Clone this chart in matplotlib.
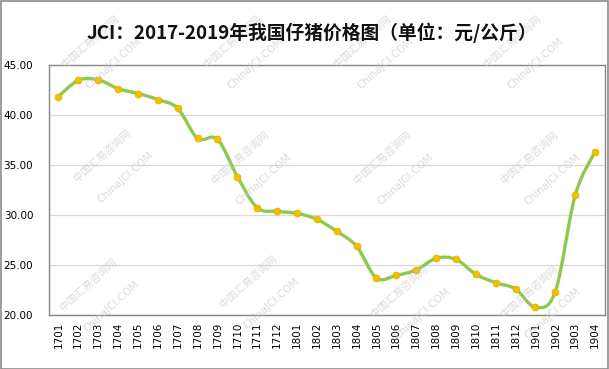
import matplotlib
matplotlib.use("Agg")
import matplotlib.pyplot as plt
from matplotlib.path import Path
from matplotlib.patches import PathPatch, Rectangle

plt.rcParams['font.family'] = ['Noto Sans CJK SC', 'DejaVu Sans']

months = ["1701", "1702", "1703", "1704", "1705", "1706", "1707", "1708", "1709", "1710",
          "1711", "1712", "1801", "1802", "1803", "1804", "1805", "1806", "1807", "1808",
          "1809", "1810", "1811", "1812", "1901", "1902", "1903", "1904"]
prices = [41.85, 43.47, 43.53, 42.63, 42.15, 41.55, 40.67, 37.67, 37.58, 33.85,
          30.73, 30.37, 30.17, 29.57, 28.37, 26.87, 23.70, 23.97, 24.50, 25.67,
          25.57, 24.07, 23.23, 22.60, 20.77, 22.33, 31.97, 36.33]
yticks = [20, 25, 30, 35, 40, 45]
title = "JCI：2017-2019年我国仔猪价格图（单位：元/公斤）"
wm_cn = "中国汇易咨询网"
wm_en = "ChinaJCI.COM"
wm_centers = [(90, 42), (232, 42), (362, 42), (512, 42),
              (102, 156), (240, 158), (382, 158), (529, 158),
              (88, 285), (248, 282), (399, 292), (529, 292)]

W, H = 609, 369
fig = plt.figure(figsize=(6.09, 3.69), dpi=100)
fig.patch.set_facecolor("white")
ax = fig.add_axes([48.5 / W, 1 - 315 / H, (605 - 48.5) / W, (315 - 65) / H])

xs = list(range(len(prices)))

# smoothed line (Excel-style Bezier through the data points)
verts = [(xs[0], prices[0])]
codes = [Path.MOVETO]
n = len(prices)
for i in range(n - 1):
    p0 = (xs[i - 1], prices[i - 1]) if i > 0 else (xs[i], prices[i])
    p1 = (xs[i], prices[i])
    p2 = (xs[i + 1], prices[i + 1])
    p3 = (xs[i + 2], prices[i + 2]) if i + 2 < n else p2
    c1 = (p1[0] + (p2[0] - p0[0]) / 6, p1[1] + (p2[1] - p0[1]) / 6)
    c2 = (p2[0] - (p3[0] - p1[0]) / 6, p2[1] - (p3[1] - p1[1]) / 6)
    verts += [c1, c2, p2]
    codes += [Path.CURVE4] * 3
ax.add_patch(PathPatch(Path(verts, codes), facecolor="none", edgecolor="#8DC94E",
                       lw=2.4, capstyle="round", joinstyle="round", zorder=3))
ax.plot(xs, prices, linestyle="none", marker="o", markersize=5,
        markerfacecolor="#F2BE00", markeredgecolor="#E0B000", markeredgewidth=0.5, zorder=4)

ax.set_xlim(-0.5, n - 0.5)
ax.set_ylim(20, 45)
ax.set_yticks(yticks)
ax.set_yticklabels([f"{v:.2f}" for v in yticks], fontsize=7.5, family="DejaVu Sans")
ax.set_xticks(xs)
ax.set_xticklabels(months, rotation=90, fontsize=7.5, family="DejaVu Sans")
ax.tick_params(axis="both", length=0)
ax.tick_params(axis="y", pad=11)
ax.tick_params(axis="x", pad=5)
ax.grid(axis="y", color="#D9D9D9", lw=0.9)
ax.set_axisbelow(True)
for s in ax.spines.values():
    s.set_color("#868686")
    s.set_linewidth(1.0)

# faint watermark text
for cx, cy in wm_centers:
    fig.text(cx / W, 1 - cy / H, wm_cn, ha="center", va="center", rotation=42,
             rotation_mode="anchor", fontsize=7.5, color="#C8C8C8", alpha=0.65, zorder=10)
    fig.text((cx + 24) / W, 1 - (cy + 21) / H, wm_en, ha="center", va="center", rotation=42,
             rotation_mode="anchor", fontsize=7.5, color="#C8C8C8", alpha=0.65, zorder=10,
             family="DejaVu Sans")

fig.text(312 / W, 1 - 33 / H, title, ha="center", va="center", fontsize=13.5,
         fontweight="bold", color="#111111", zorder=11)

fig.patches.append(Rectangle((0.001, 0.001), 0.997, 0.997, transform=fig.transFigure,
                             fill=False, edgecolor="#8C8C8C", lw=1.2))

fig.savefig("out.png", dpi=100)
